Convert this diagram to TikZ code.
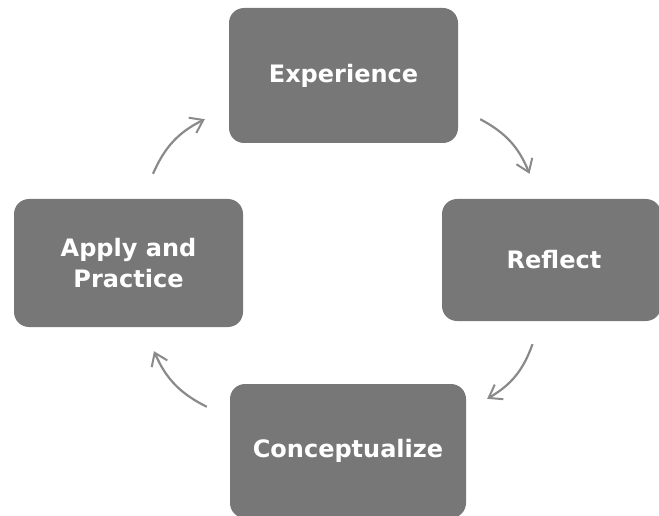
\documentclass[tikz,border=0pt]{standalone}
\usepackage{fontspec}
\setmainfont{DejaVu Sans}
\usetikzlibrary{arrows.meta}
\definecolor{boxgray}{HTML}{777777}
\definecolor{arrowgray}{HTML}{8A8A8A}
\begin{document}
\begin{tikzpicture}[x=1pt, y=-1pt,
        stage/.style={rectangle, rounded corners=15pt, minimum width=229pt, minimum height=130pt, fill=boxgray, text=white, align=center, font=\fontsize{24}{31}\selectfont\bfseries},
        arrow/.style={-{Straight Barb[length=12pt, width=17pt, line width=2pt]}, line width=2.2pt, arrowgray, bend left=20}
    ]
        \useasboundingbox (0,0) rectangle (659,516);

        \node[stage, minimum height=135pt] (exp) at (343.5,75.5) {Experience};
        \node[stage, minimum width=219pt, minimum height=122pt] (ref) at (551.5,260) {\hspace*{5pt}Reflect};
        \node[stage, minimum width=236pt, minimum height=134pt] (con) at (348,451) {Conceptualize};
        \node[stage, minimum height=128pt] (app) at (128.5,263) {Apply and\\Practice};

        \draw[arrow] ([shift={(22,-24)}]exp.south east) to ([shift={(-22,-25)}]ref.north);
        \draw[arrow] ([shift={(-19,23)}]ref.south) to ([shift={(21,15)}]con.north east);
        \draw[arrow] ([shift={(-23,23)}]con.north west) to ([shift={(25.5,24)}]app.south);
        \draw[arrow] ([shift={(24.5,-25)}]app.north) to ([shift={(-24,-24)}]exp.south west);
    \end{tikzpicture}
\end{document}
